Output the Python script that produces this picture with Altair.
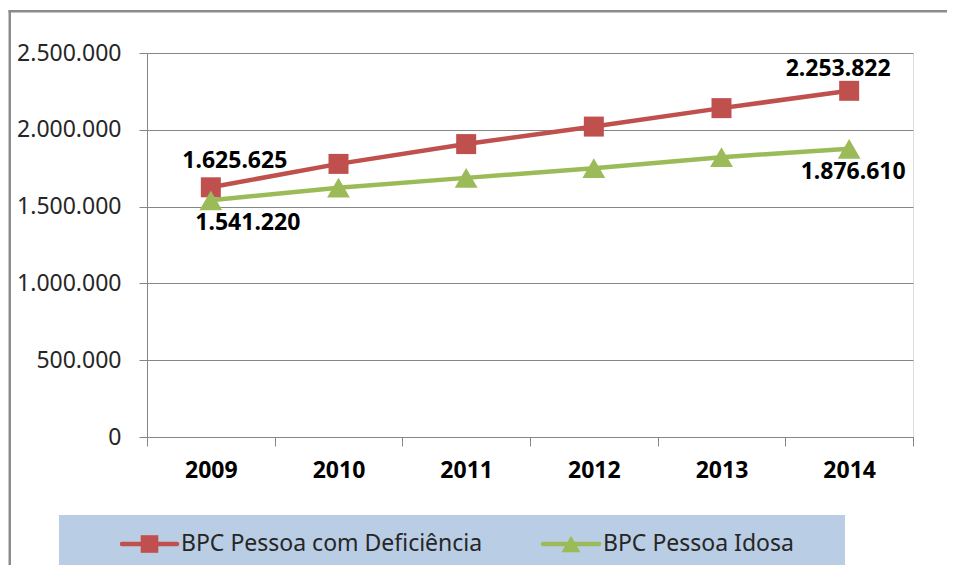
import altair as alt
import pandas as pd

# ---- data ----
years = ["2009", "2010", "2011", "2012", "2013", "2014"]
series = ["BPC Pessoa com Deficiência", "BPC Pessoa Idosa"]
deficiencia = [1625625, 1778000, 1907000, 2021000, 2141000, 2253822]
idosa = [1541220, 1623000, 1687000, 1750000, 1822000, 1876610]
y_ticks = [0, 500000, 1000000, 1500000, 2000000, 2500000]
colors = ["#C0504D", "#9BBB59"]

FONT = "Noto Sans"
GRAY = "#868686"

rows = []
for s, vals in zip(series, [deficiencia, idosa]):
    for yr, v in zip(years, vals):
        rows.append({"ano": yr, "serie": s, "valor": v,
                     "rotulo": f"{v:,}".replace(",", ".")})
df = pd.DataFrame(rows)
leg_df = pd.DataFrame({"serie": series})

x = alt.X("ano:O",
          scale=alt.Scale(type="band", paddingInner=0, paddingOuter=0),
          axis=alt.Axis(title=None, labelAngle=0, tickBand="extent",
                        labelFont=FONT, labelFontSize=23, labelFontWeight="bold",
                        labelColor="#000000", labelPadding=24, labelBaseline="middle",
                        tickSize=9, tickColor=GRAY, domainColor=GRAY, grid=False))
y = alt.Y("valor:Q",
          scale=alt.Scale(domain=[0, 2500000], nice=False, zero=True),
          axis=alt.Axis(title=None, values=y_ticks, grid=True, gridColor=GRAY,
                        gridWidth=1, tickSize=8, tickColor=GRAY, domainColor=GRAY,
                        labelFont=FONT, labelFontSize=23, labelColor="#262626",
                        labelPadding=18,
                        labelExpr="replace(format(datum.value, ','), regexp(',', 'g'), '.')"))
color = alt.Color("serie:N", scale=alt.Scale(domain=series, range=colors), legend=None)

base = alt.Chart(df)

lines = base.mark_line(strokeWidth=4.5, strokeJoin="round").encode(x=x, y=y, color=color)
squares = base.transform_filter(alt.datum.serie == series[0]).mark_point(
    shape="square", filled=True, size=400, opacity=1).encode(x=x, y=y, color=color)
tris = base.transform_filter(alt.datum.serie == series[1]).mark_point(
    shape="triangle-up", filled=True, size=520, opacity=1).encode(x=x, y=y, color=color)


def label(serie, ano, dx, dy):
    return base.transform_filter(
        (alt.datum.serie == serie) & (alt.datum.ano == ano)
    ).mark_text(dx=dx, dy=dy, font=FONT, fontSize=23, fontWeight="bold",
                color="#000000", align="center", baseline="middle").encode(
        x=x, y=y, text="rotulo:N")


labels = [
    label(series[0], years[0], 24, -26),
    label(series[1], years[0], 37, 23),
    label(series[0], years[-1], -11, -22),
    label(series[1], years[-1], 4, 23),
]

one = alt.Chart(leg_df.head(1))
border_left = one.mark_rect(color="#8C8C8C").encode(
    x=alt.value(-138.5), x2=alt.value(-136), y=alt.value(-43), y2=alt.value(540))
border_top = one.mark_rect(color="#8C8C8C").encode(
    x=alt.value(-138.5), x2=alt.value(800), y=alt.value(-43), y2=alt.value(-40.5))
legend_box = one.mark_rect(color="#B9CDE5").encode(
    x=alt.value(-88), x2=alt.value(698), y=alt.value(462), y2=alt.value(519))

leg_items = []
for i, (lx1, lx2, mx, tx, shape, size) in enumerate([
        (-25, 30, 2.5, 34, "square", 310),
        (396, 452, 424, 456, "triangle-up", 360)]):
    item = alt.Chart(leg_df.iloc[[i]])
    leg_items.append(item.mark_rule(color=colors[i], strokeWidth=4.5, strokeCap="round").encode(
        x=alt.value(lx1), x2=alt.value(lx2), y=alt.value(491)))
    leg_items.append(item.mark_point(shape=shape, filled=True, size=size, opacity=1,
                                     color=colors[i]).encode(x=alt.value(mx), y=alt.value(491)))
    leg_items.append(item.mark_text(font=FONT, fontSize=23, color="#262626", align="left",
                                    baseline="middle").encode(
        x=alt.value(tx), y=alt.value(491), text="serie:N"))

chart = alt.layer(
    border_left, border_top, legend_box, *leg_items,
    lines, squares, tris, *labels
).properties(
    width=766, height=384,
    autosize=alt.AutoSizeParams(type="none"),
    padding={"left": 139, "top": 45, "right": 35, "bottom": 128},
).configure_view(stroke=None).configure(background="white")

chart.save("out.html", embed_options={"renderer": "svg", "actions": False})
